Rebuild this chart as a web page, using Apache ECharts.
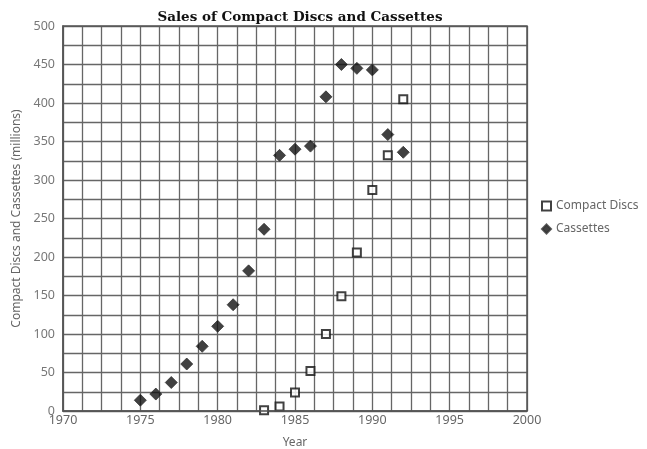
<!DOCTYPE html>
<html><head><meta charset="utf-8">
<script src="https://cdn.jsdelivr.net/npm/echarts@6/dist/echarts.min.js"></script>
<style>html,body{margin:0;padding:0;background:#fff}#c{width:647px;height:449px}</style>
</head><body><div id="c"></div>
<script>
const cassetteYears = [1975,1976,1977,1978,1979,1980,1981,1982,1983,1984,1985,1986,1987,1988,1989,1990,1991,1992];
const cassetteSales = [14,22,37,61,84,110,138,182,236,332,340,344,408,450,445,443,359,336];
const cdYears = [1983,1984,1985,1986,1987,1988,1989,1990,1991,1992];
const cdSales = [1,6,24,52,100,149,206,287,332,405];
const seriesNames = ['Compact Discs','Cassettes'];
const titleText = 'Sales of Compact Discs and Cassettes';

const pair = (xs, ys) => xs.map((x, i) => [x, ys[i]]);
const gridLine = {show: true, lineStyle: {color: '#666', width: 1.3}};
const chart = echarts.init(document.getElementById('c'), null, {renderer: 'canvas'});
chart.setOption({
  animation: false,
  backgroundColor: '#fff',
  title: {text: titleText, left: 295, top: 5, textAlign: 'center',
    textStyle: {fontFamily: 'DejaVu Serif', fontWeight: 'bold', fontSize: 13.5, color: '#111'}},
  grid: {left: 63, right: 120, top: 26, bottom: 38, containLabel: false, outerBoundsMode: 'none'},
  legend: {orient: 'vertical', left: 536, top: 195, itemGap: 11, itemWidth: 9, itemHeight: 9,
    textStyle: {fontFamily: 'Noto Sans', fontSize: 12, color: '#666'},
    data: [{name: seriesNames[0], icon: 'rect'}, {name: seriesNames[1], icon: 'diamond'}]},
  xAxis: {type: 'value', min: 1970, max: 2000, interval: 5,
    name: 'Year', nameLocation: 'middle', nameGap: 26,
    nameTextStyle: {fontFamily: 'Noto Sans', fontSize: 12, color: '#666'},
    axisLine: {show: true, lineStyle: {color: '#555', width: 1.5}},
    axisTick: {show: false},
    axisLabel: {fontFamily: 'Noto Sans', fontSize: 12.5, color: '#666', margin: 3,
      formatter: v => String(v)},
    splitLine: gridLine,
    minorTick: {show: false, splitNumber: 4},
    minorSplitLine: gridLine},
  yAxis: {type: 'value', min: 0, max: 500, interval: 50,
    name: 'Compact Discs and Cassettes (millions)', nameLocation: 'middle', nameGap: 40,
    nameTextStyle: {fontFamily: 'Noto Sans', fontSize: 12, color: '#666'},
    axisLine: {show: true, lineStyle: {color: '#555', width: 1.5}},
    axisTick: {show: false},
    axisLabel: {fontFamily: 'Noto Sans', fontSize: 12.5, color: '#777', margin: 8},
    splitLine: gridLine,
    minorTick: {show: false, splitNumber: 2},
    minorSplitLine: gridLine},
  series: [
    {name: seriesNames[0], type: 'scatter', data: pair(cdYears, cdSales),
      symbol: 'rect', symbolSize: 8,
      itemStyle: {color: '#fff', borderColor: '#111', borderWidth: 2}},
    {name: seriesNames[1], type: 'scatter', data: pair(cassetteYears, cassetteSales),
      symbol: 'diamond', symbolSize: 12,
      itemStyle: {color: '#111', borderColor: '#333', borderWidth: 1}}
  ]
});
chart.setOption({graphic: [{type: 'rect', shape: {x: 63, y: 26, width: 464, height: 385},
  style: {fill: 'none', stroke: '#555', lineWidth: 1.5}, silent: true, z: 10}]});
</script></body></html>
